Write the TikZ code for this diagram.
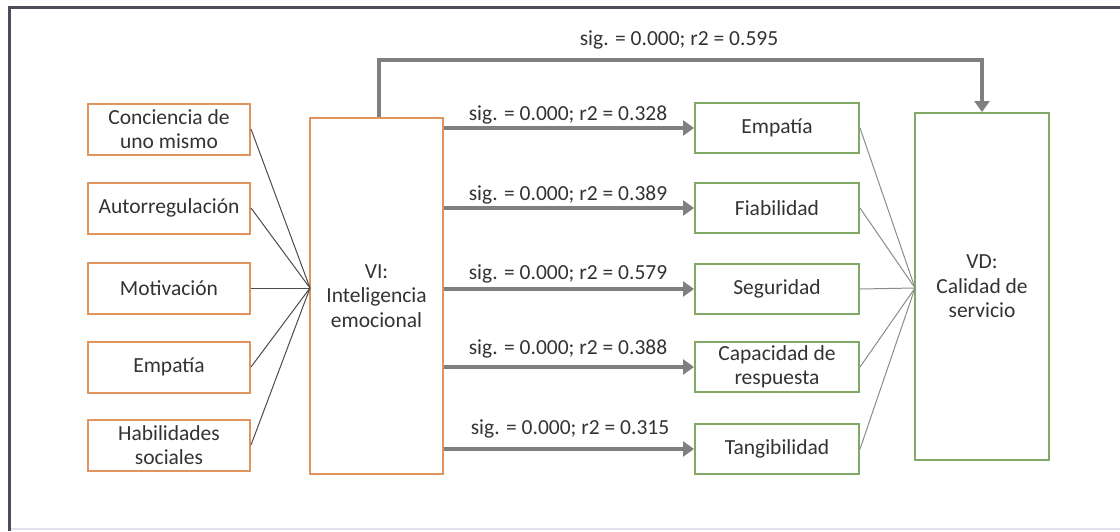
\documentclass[tikz,border=0pt]{standalone}
\usepackage{fontspec}
\setmainfont{Carlito}
\usetikzlibrary{arrows.meta}
\definecolor{framedark}{HTML}{4B4E5A}
\definecolor{framelight}{HTML}{E2E2EE}
\definecolor{ivorange}{HTML}{E0955F}
\definecolor{dvgreen}{HTML}{82A868}
\definecolor{arrowgray}{HTML}{7F7F7F}
\definecolor{txt}{HTML}{333333}
\tikzset{
  every node/.style={font=\fontsize{21.5}{24.5}\selectfont, text=txt},
  ivbox/.style={draw=ivorange, line width=2pt, fill=white, align=center,
    minimum width=162pt, minimum height=51pt, inner sep=0pt},
  dvbox/.style={draw=dvgreen, line width=2pt, fill=white, align=center,
    minimum width=164pt, minimum height=50pt, inner sep=0pt},
  bigbox/.style={line width=2pt, fill=white, align=center, inner sep=0pt},
  feed/.style={line width=1pt, draw=black!70},
  feedr/.style={line width=1pt, draw=black!45},
  effect/.style={line width=4pt, draw=arrowgray,
    -{Triangle[length=11pt,width=15pt]}},
  stat/.style={inner sep=0pt, anchor=base}
}
\begin{document}
\begin{tikzpicture}[x=1pt,y=-1pt]
\useasboundingbox (0,0) rectangle (1120,531);
\fill[white] (0,0) rectangle (1120,531);
% outer frame
\draw[framelight, line width=2pt] (9,529) -- (1120,529);
\draw[framedark, line width=3pt] (9,531) -- (9,7) -- (1120,7);

% dimensions of the independent variable
\node[ivbox] (c1) at (169,129) {Conciencia de\\uno mismo};
\node[ivbox] (c2) at (169,208) {Autorregulación};
\node[ivbox] (c3) at (169,288) {Motivación};
\node[ivbox] (c4) at (169,367) {Empatía};
\node[ivbox] (c5) at (169,445) {Habilidades\\sociales};

% independent variable
\node[bigbox, draw=ivorange, minimum width=133pt, minimum height=356pt] (vi) at (376.5,296) {VI:\\Inteligencia\\emocional};
\coordinate (vin) at (310,288);

% dimensions of the dependent variable
\node[dvbox] (d1) at (777,128) {Empatía};
\node[dvbox] (d2) at (777,208) {Fiabilidad};
\node[dvbox] (d3) at (777,289) {Seguridad};
\node[dvbox] (d4) at (777,367) {Capacidad de\\respuesta};
\node[dvbox] (d5) at (777,449) {Tangibilidad};

% dependent variable
\node[bigbox, draw=dvgreen, minimum width=134pt, minimum height=347pt] (vd) at (982,286.5) {VD:\\Calidad de\\servicio};
\coordinate (vdin) at (915,288);

% converging lines
\foreach \n in {c1,c2,c3,c4,c5} \draw[feed] (\n.east) -- (vin);
\foreach \n in {d1,d2,d3,d4,d5} \draw[feedr] (\n.east) -- (vdin);

% regression arrows from VI to each dimension
\draw[effect] (vi.east |- d1.west) -- (d1.west);
\draw[effect] (vi.east |- d2.west) -- (d2.west);
\draw[effect] (vi.east |- d3.west) -- (d3.west);
\draw[effect] (vi.east |- d4.west) -- (d4.west);
\draw[effect] (vi.east |- d5.west) -- (d5.west);
\node[stat] (s1) at (568,120) {sig. = 0.000; r2 = 0.328};
\node[stat] (s2) at (568,200) {sig. = 0.000; r2 = 0.389};
\node[stat] (s3) at (568,279) {sig. = 0.000; r2 = 0.579};
\node[stat] (s4) at (568,354) {sig. = 0.000; r2 = 0.388};
\node[stat] (s5) at (570,434) {sig. = 0.000; r2 = 0.315};

% overall effect VI -> VD
\coordinate (up) at (379,60);
\draw[effect] (vi.north -| up) -- (up) -| (vd.north);
\node[stat] (s0) at (679,45) {sig. = 0.000; r2 = 0.595};
\end{tikzpicture}
\end{document}
